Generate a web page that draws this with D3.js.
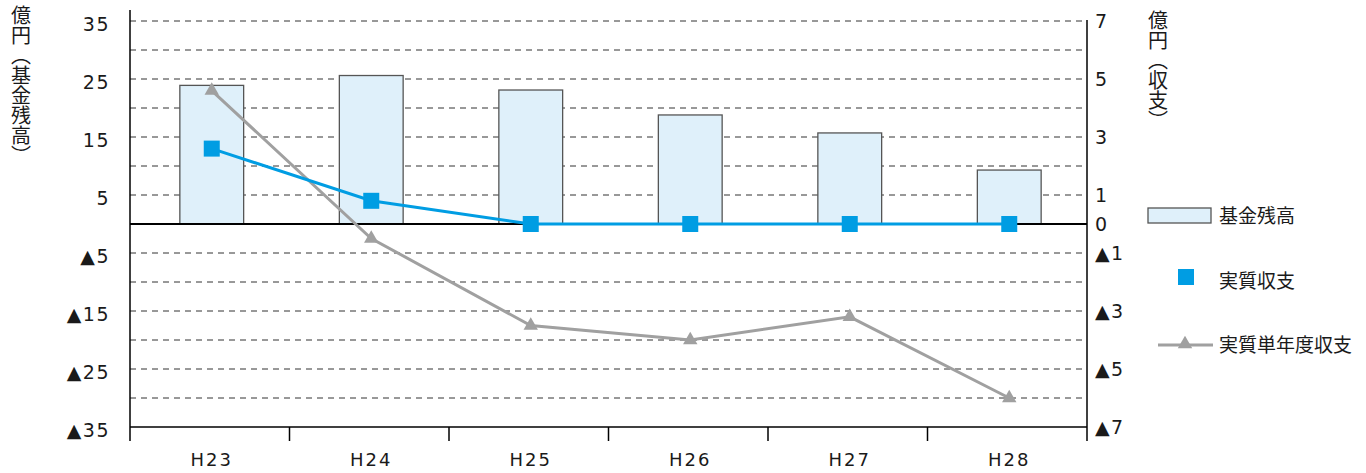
<!DOCTYPE html>
<html>
<head>
<meta charset="utf-8">
<script src="https://cdn.jsdelivr.net/npm/d3@7"></script>
<style>
    body { margin: 0; background: #fff; }
    svg text { font-family: "Noto Sans CJK JP", "Noto Sans", sans-serif; fill: #1a1a1a; }
    svg text.num { font-family: "DejaVu Sans", sans-serif; }
</style>
</head>
<body>
<svg id="drawing_region"></svg>
<script>
// 年度
const categories = ['H23', 'H24', 'H25', 'H26', 'H27', 'H28'];
// 基金残高 (億円, 左軸)
const kikin = [23.9, 25.6, 23.1, 18.8, 15.7, 9.3];
// 実質収支 (億円, 右軸)
const jisshitsu = [2.6, 0.8, 0, 0, 0, 0];
// 実質単年度収支 (億円, 右軸)
const tannendo = [4.6, -0.5, -3.5, -4.0, -3.2, -6.0];

const left_ticks = [35, 25, 15, 5, -5, -15, -25, -35];
const right_ticks = [7, 5, 3, 1, 0, -1, -3, -5, -7];
const grid_values = [35, 30, 25, 20, 15, 10, 5, -5, -10, -15, -20, -25, -30];

const legend_items = ['基金残高', '実質収支', '実質単年度収支'];

const width = 1366, height = 473;
const plot = {left: 130, right: 1087, top: 21, bottom: 427};

const fmt = d => d < 0 ? '▲' + Math.abs(d) : String(d);

const svg = d3.select('#drawing_region')
    .attr('width', width)
    .attr('height', height);

const xscale = d3.scaleBand().domain(categories).range([plot.left, plot.right]);
const yleft = d3.scaleLinear().domain([-35, 35]).range([plot.bottom, plot.top]);
const yright = d3.scaleLinear().domain([-7, 7]).range([plot.bottom, plot.top]);
const cx = d => xscale(d) + xscale.bandwidth() / 2 + 2;

// 補助線 (破線)
svg.append('g').selectAll('line')
    .data(grid_values)
    .enter()
    .append('line')
    .attr('x1', plot.left).attr('x2', plot.right)
    .attr('y1', d => yleft(d)).attr('y2', d => yleft(d))
    .attr('stroke', '#333')
    .attr('stroke-width', 1)
    .attr('stroke-dasharray', '6,5');

// 棒グラフ
const bw = xscale.bandwidth() * 0.4;
svg.append('g').selectAll('rect')
    .data(kikin)
    .enter()
    .append('rect')
    .attr('x', (d, i) => cx(categories[i]) - bw / 2)
    .attr('y', d => yleft(d))
    .attr('width', bw)
    .attr('height', d => yleft(0) - yleft(d))
    .attr('fill', '#dff0fa')
    .attr('stroke', '#555')
    .attr('stroke-width', 1.3);

// ゼロ線と下端線
svg.append('line')
    .attr('x1', plot.left).attr('x2', plot.right)
    .attr('y1', yleft(0)).attr('y2', yleft(0))
    .attr('stroke', '#000').attr('stroke-width', 2);
svg.append('line')
    .attr('x1', plot.left).attr('x2', plot.right)
    .attr('y1', yleft(-35)).attr('y2', yleft(-35))
    .attr('stroke', '#000').attr('stroke-width', 1.5);

// 縦軸の線
svg.append('line')
    .attr('x1', plot.left).attr('x2', plot.left)
    .attr('y1', plot.top - 11).attr('y2', plot.bottom + 14)
    .attr('stroke', '#000').attr('stroke-width', 1.5);
svg.append('line')
    .attr('x1', plot.right).attr('x2', plot.right)
    .attr('y1', plot.top - 1).attr('y2', plot.bottom + 14)
    .attr('stroke', '#000').attr('stroke-width', 1.5);

// カテゴリ区切りの目盛り
svg.append('g').selectAll('line')
    .data(categories.slice(1))
    .enter()
    .append('line')
    .attr('x1', d => xscale(d)).attr('x2', d => xscale(d))
    .attr('y1', plot.bottom).attr('y2', plot.bottom + 14)
    .attr('stroke', '#000').attr('stroke-width', 1.5);

// 左軸ラベル
const laxis = svg.append('g')
    .attr('transform', `translate(${plot.left}, 0)`)
    .call(d3.axisLeft(yleft).tickValues(left_ticks).tickFormat(fmt).tickSize(0).tickPadding(20));
laxis.select('.domain').remove();
laxis.selectAll('text')
    .attr('class', 'num')
    .style('font-size', '19px')
    .style('letter-spacing', '1.5px')
    .attr('dy', '0.5em');

// 右軸ラベル
const raxis = svg.append('g')
    .attr('transform', `translate(${plot.right}, 0)`)
    .call(d3.axisRight(yright).tickValues(right_ticks).tickFormat(fmt).tickSize(0).tickPadding(8));
raxis.select('.domain').remove();
raxis.selectAll('text')
    .attr('class', 'num')
    .style('font-size', '19px')
    .style('letter-spacing', '1.5px')
    .attr('dy', '0.35em');

// 横軸ラベル
svg.append('g').selectAll('text')
    .data(categories)
    .enter()
    .append('text')
    .attr('class', 'num')
    .attr('x', d => cx(d))
    .attr('y', 466)
    .attr('text-anchor', 'middle')
    .style('font-size', '18px')
    .style('letter-spacing', '2px')
    .text(d => d);

// 実質単年度収支 (灰色の折れ線)
const line_r = d3.line()
    .x((d, i) => cx(categories[i]))
    .y(d => yright(d));

svg.append('path')
    .datum(tannendo)
    .attr('d', line_r)
    .attr('fill', 'none')
    .attr('stroke', '#a0a0a0')
    .attr('stroke-width', 3);

const tri = d3.symbol().type(d3.symbolTriangle).size(90);
svg.append('g').selectAll('path')
    .data(tannendo)
    .enter()
    .append('path')
    .attr('d', tri)
    .attr('transform', (d, i) => `translate(${cx(categories[i])}, ${yright(d)})`)
    .attr('fill', '#a0a0a0');

// 実質収支 (青の折れ線)
svg.append('path')
    .datum(jisshitsu)
    .attr('d', line_r)
    .attr('fill', 'none')
    .attr('stroke', '#009de3')
    .attr('stroke-width', 3);

svg.append('g').selectAll('rect')
    .data(jisshitsu)
    .enter()
    .append('rect')
    .attr('x', (d, i) => cx(categories[i]) - 8)
    .attr('y', d => yright(d) - 8)
    .attr('width', 16)
    .attr('height', 16)
    .attr('fill', '#009de3');

// 軸タイトル (縦書き)
svg.append('text')
    .attr('x', 21).attr('y', 5)
    .attr('writing-mode', 'vertical-rl')
    .style('font-size', '20px')
    .text('億円（基金残高）');
svg.append('text')
    .attr('x', 1158).attr('y', 10)
    .attr('writing-mode', 'vertical-rl')
    .style('font-size', '20px')
    .text('億円（収支）');

// 凡例
const legend = svg.append('g');
legend.append('rect')
    .attr('x', 1148).attr('y', 208)
    .attr('width', 63).attr('height', 15)
    .attr('fill', '#dff0fa')
    .attr('stroke', '#555').attr('stroke-width', 1.3);
legend.append('rect')
    .attr('x', 1178).attr('y', 269)
    .attr('width', 16).attr('height', 16)
    .attr('fill', '#009de3');
legend.append('line')
    .attr('x1', 1158).attr('x2', 1213)
    .attr('y1', 345).attr('y2', 345)
    .attr('stroke', '#a0a0a0').attr('stroke-width', 3);
legend.append('path')
    .attr('d', tri)
    .attr('transform', 'translate(1185, 344)')
    .attr('fill', '#a0a0a0');
legend.selectAll('text.lg')
    .data(legend_items)
    .enter()
    .append('text')
    .attr('class', 'lg')
    .attr('x', 1219)
    .attr('y', (d, i) => [216, 281, 345][i])
    .attr('dy', '0.35em')
    .style('font-size', '19px')
    .text(d => d);
</script>
</body>
</html>
